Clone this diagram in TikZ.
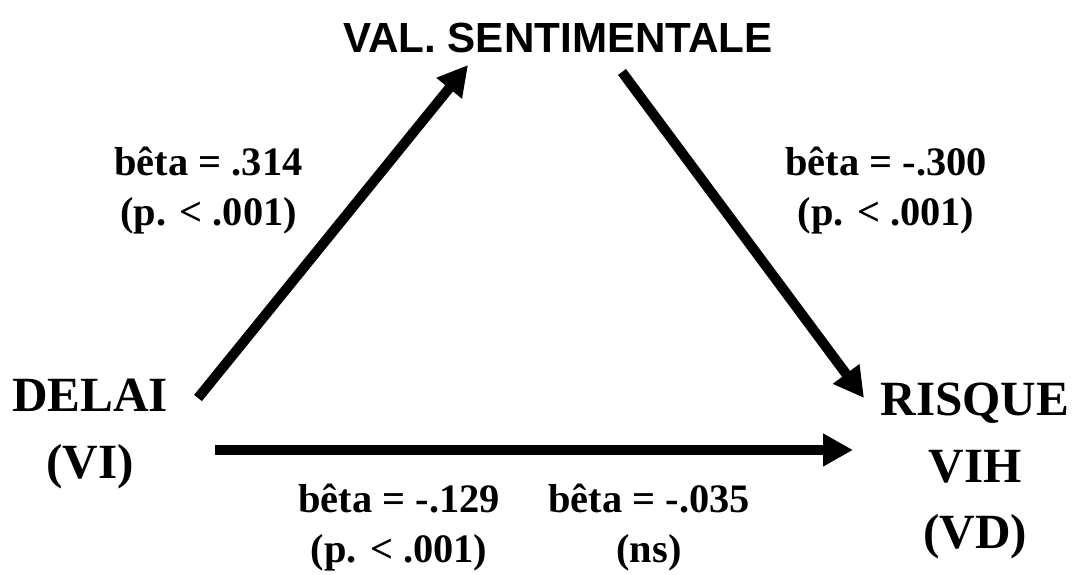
\documentclass[tikz,border=0pt]{standalone}
\usepackage{fontspec}
\setmainfont{Liberation Serif}
\newfontfamily\sanshead{Liberation Sans}
\usetikzlibrary{arrows.meta}
\tikzset{
  bigarrow/.style={line width=0.2cm, -{Triangle[length=6mm,width=6.2mm]}},
  varlabel/.style={font=\fontsize{28}{38}\selectfont\bfseries, align=center},
  betalabel/.style={font=\fontsize{23}{28.5}\selectfont\bfseries, align=center}
}
\begin{document}
\begin{tikzpicture}[x=1.0cm,y=1.0cm]
  \useasboundingbox (0,0) rectangle (21.5,11.5);
  \node[font=\sanshead\fontsize{24}{28}\selectfont\bfseries] (val) at (11.16,10.74)
    {VAL. SENTIMENTALE};
  \node[varlabel] (delai) at (1.8,2.82) {DELAI\\(VI)};
  \node[varlabel] (risque) at (19.5,2.08) {RISQUE\\VIH\\(VD)};
  \foreach \i/\x/\y/\lab in {1/4.17/7.68/{b\^eta = .314\\(p. < .001)},
                             2/17.72/7.68/{b\^eta = -.300\\(p. < .001)},
                             3/7.98/0.95/{b\^eta = -.129\\(p. < .001)},
                             4/12.98/0.95/{b\^eta = -.035\\(ns)}}
    \node[betalabel] (b\i) at (\x,\y) {\lab};
  \coordinate (d1) at (3.96,3.54);
  \coordinate (v1) at (9.36,10.2);
  \coordinate (v2) at (12.44,10.06);
  \coordinate (r1) at (17.28,3.54);
  \coordinate (d2) at (4.3,2.5);
  \coordinate (r2) at (17.06,2.5);
  \draw[bigarrow] (d1) -- (v1);
  \draw[bigarrow] (v2) -- (r1);
  \draw[bigarrow] (d2) -- (r2);
\end{tikzpicture}
\end{document}
